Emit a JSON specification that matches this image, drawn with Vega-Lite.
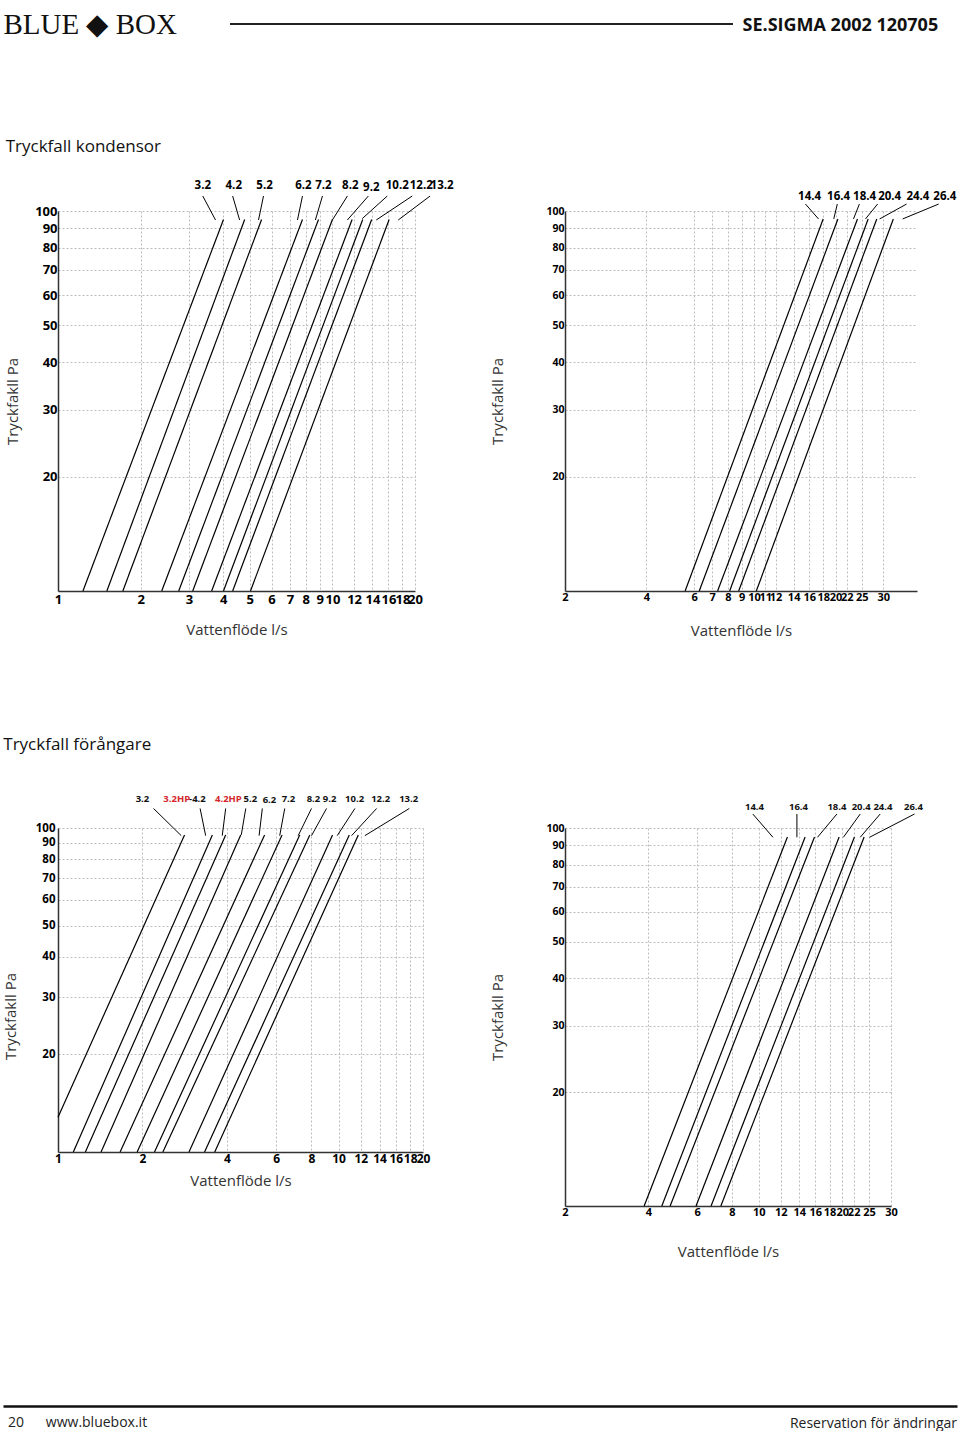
{
  "$schema": "https://vega.github.io/schema/vega-lite/v6.json",
  "background": "white",
  "padding": {"left": 3, "top": 10, "right": 0, "bottom": 0},
  "columns": 1,
  "align": "none",
  "spacing": 98,
  "config": {
    "view": {"stroke": null},
    "font": "Open Sans",
    "axis": {
      "ticks": false,
      "labelColor": "black",
      "labelFont": "Open Sans",
      "labelFontWeight": "bold",
      "labelOverlap": false,
      "labelFlush": false,
      "labelBound": false,
      "gridColor": "#bdbdbd",
      "gridDash": [2, 2],
      "gridWidth": 1,
      "domainColor": "#333333",
      "domainWidth": 1.5,
      "titleFont": "Open Sans",
      "titleFontWeight": "normal",
      "titleColor": "#333333",
      "titleFontSize": 15
    }
  },
  "datasets": {
    "k1_lines": [
      {"model": "3.2", "q": 1.233, "p": 10}, {"model": "3.2", "q": 4.01, "p": 95},
      {"model": "4.2", "q": 1.507, "p": 10}, {"model": "4.2", "q": 4.79, "p": 95},
      {"model": "5.2", "q": 1.723, "p": 10}, {"model": "5.2", "q": 5.52, "p": 95},
      {"model": "6.2", "q": 2.388, "p": 10}, {"model": "6.2", "q": 7.78, "p": 95},
      {"model": "7.2", "q": 2.754, "p": 10}, {"model": "7.2", "q": 8.9, "p": 95},
      {"model": "8.2", "q": 3.097, "p": 10}, {"model": "8.2", "q": 10.0, "p": 95},
      {"model": "9.2", "q": 3.63, "p": 10}, {"model": "9.2", "q": 11.8, "p": 95},
      {"model": "10.2", "q": 4.01, "p": 10}, {"model": "10.2", "q": 12.9, "p": 95},
      {"model": "12.2", "q": 4.33, "p": 10}, {"model": "12.2", "q": 13.9, "p": 95},
      {"model": "13.2", "q": 5.03, "p": 10}, {"model": "13.2", "q": 16.1, "p": 95}
    ],
    "k1_leaders": [
      {"model": "3.2", "q": 3.37, "p": 109.5, "q2": 3.75, "p2": 94.7},
      {"model": "4.2", "q": 4.33, "p": 109.5, "q2": 4.59, "p2": 94.7},
      {"model": "5.2", "q": 5.61, "p": 109.5, "q2": 5.38, "p2": 94.7},
      {"model": "6.2", "q": 7.78, "p": 109.5, "q2": 7.46, "p2": 94.7},
      {"model": "7.2", "q": 9.2, "p": 109.5, "q2": 8.67, "p2": 94.7},
      {"model": "8.2", "q": 11.34, "p": 109.5, "q2": 10.0, "p2": 94.7},
      {"model": "9.2", "q": 13.52, "p": 109.5, "q2": 11.34, "p2": 94.7},
      {"model": "10.2", "q": 15.85, "p": 109.5, "q2": 12.85, "p2": 95.5},
      {"model": "12.2", "q": 19.54, "p": 109.5, "q2": 14.45, "p2": 94.7},
      {"model": "13.2", "q": 22.7, "p": 109.5, "q2": 17.38, "p2": 94.7}
    ],
    "k1_labels": [
      {"label": "3.2", "q": 3.37, "p": 116.4},
      {"label": "4.2", "q": 4.37, "p": 116.4},
      {"label": "5.2", "q": 5.66, "p": 116.4},
      {"label": "6.2", "q": 7.84, "p": 116.4},
      {"label": "7.2", "q": 9.27, "p": 116.4},
      {"label": "8.2", "q": 11.62, "p": 116.4},
      {"label": "9.2", "q": 13.86, "p": 115.2},
      {"label": "10.2", "q": 17.23, "p": 116.4},
      {"label": "12.2", "q": 21.08, "p": 116.4},
      {"label": "13.2", "q": 25.1, "p": 116.4}
    ],
    "k2_lines": [
      {"model": "14.4", "q": 5.56, "p": 10}, {"model": "14.4", "q": 18.0, "p": 95.3},
      {"model": "16.4", "q": 6.27, "p": 10}, {"model": "16.4", "q": 20.4, "p": 95.3},
      {"model": "18.4", "q": 7.33, "p": 10}, {"model": "18.4", "q": 24.1, "p": 95.3},
      {"model": "20.4", "q": 8.12, "p": 10}, {"model": "20.4", "q": 26.4, "p": 95.3},
      {"model": "24.4", "q": 8.77, "p": 10}, {"model": "24.4", "q": 28.4, "p": 95.3},
      {"model": "26.4", "q": 10.19, "p": 10}, {"model": "26.4", "q": 32.7, "p": 95.3}
    ],
    "k2_leaders": [
      {"model": "14.4", "q": 15.48, "p": 104.3, "q2": 17.3, "p2": 95.3},
      {"model": "16.4", "q": 20.3, "p": 104.3, "q2": 19.7, "p2": 95.3},
      {"model": "18.4", "q": 24.5, "p": 104.3, "q2": 23.3, "p2": 95.3},
      {"model": "20.4", "q": 28.6, "p": 104.3, "q2": 25.8, "p2": 95.3},
      {"model": "24.4", "q": 36.6, "p": 104.3, "q2": 29.1, "p2": 95.3},
      {"model": "26.4", "q": 48.1, "p": 104.3, "q2": 35.4, "p2": 95.3}
    ],
    "k2_labels": [
      {"label": "14.4", "q": 16.03, "p": 108.8},
      {"label": "16.4", "q": 20.52, "p": 108.8},
      {"label": "18.4", "q": 25.6, "p": 108.8},
      {"label": "20.4", "q": 31.7, "p": 108.8},
      {"label": "24.4", "q": 40.3, "p": 108.8},
      {"label": "26.4", "q": 50.7, "p": 108.8}
    ],
    "f1_lines": [
      {"model": "3.2", "q": 1.0, "p": 12.8}, {"model": "3.2", "q": 2.825, "p": 95.2},
      {"model": "3.2HP-4.2", "q": 1.134, "p": 10}, {"model": "3.2HP-4.2", "q": 3.55, "p": 95.2},
      {"model": "4.2HP", "q": 1.252, "p": 10}, {"model": "4.2HP", "q": 3.96, "p": 95.2},
      {"model": "5.2", "q": 1.424, "p": 10}, {"model": "5.2", "q": 4.48, "p": 95.2},
      {"model": "6.2", "q": 1.665, "p": 10}, {"model": "6.2", "q": 5.45, "p": 95.2},
      {"model": "7.2", "q": 1.915, "p": 10}, {"model": "7.2", "q": 6.29, "p": 95.2},
      {"model": "8.2", "q": 2.208, "p": 10}, {"model": "8.2", "q": 7.27, "p": 95.2},
      {"model": "9.2", "q": 2.365, "p": 10}, {"model": "9.2", "q": 7.9, "p": 95.2},
      {"model": "10.2", "q": 2.93, "p": 10}, {"model": "10.2", "q": 9.52, "p": 95.2},
      {"model": "12.2", "q": 3.33, "p": 10}, {"model": "12.2", "q": 10.92, "p": 95.2},
      {"model": "13.2", "q": 3.62, "p": 10}, {"model": "13.2", "q": 11.76, "p": 95.2}
    ],
    "f1_leaders": [
      {"model": "3.2", "q": 2.19, "p": 114.9, "q2": 2.75, "p2": 94.7},
      {"model": "3.2HP-4.2", "q": 3.21, "p": 114.9, "q2": 3.36, "p2": 94.7},
      {"model": "4.2HP", "q": 3.96, "p": 114.9, "q2": 3.85, "p2": 94.7},
      {"model": "5.2", "q": 4.67, "p": 114.9, "q2": 4.5, "p2": 95.2},
      {"model": "6.2", "q": 5.35, "p": 114.9, "q2": 5.21, "p2": 94.7},
      {"model": "7.2", "q": 6.43, "p": 114.9, "q2": 6.17, "p2": 94.7},
      {"model": "8.2", "q": 8.01, "p": 114.9, "q2": 7.18, "p2": 94.7},
      {"model": "9.2", "q": 9.06, "p": 114.9, "q2": 8.01, "p2": 94.7},
      {"model": "10.2", "q": 11.44, "p": 114.9, "q2": 9.89, "p2": 94.7},
      {"model": "12.2", "q": 13.67, "p": 114.9, "q2": 11.13, "p2": 94.7},
      {"model": "13.2", "q": 17.88, "p": 114.9, "q2": 12.41, "p2": 94.7}
    ],
    "f1_labels": [
      {"label": "3.2", "kind": "std", "q": 2.0, "p": 122.7},
      {"label": "3.2HP", "kind": "HP", "q": 2.65, "p": 122.7},
      {"label": "-4.2", "kind": "std", "q": 3.14, "p": 122.7},
      {"label": "4.2HP", "kind": "HP", "q": 4.05, "p": 122.7},
      {"label": "5.2", "kind": "std", "q": 4.85, "p": 122.7},
      {"label": "6.2", "kind": "std", "q": 5.67, "p": 121.8},
      {"label": "7.2", "kind": "std", "q": 6.63, "p": 122.7},
      {"label": "8.2", "kind": "std", "q": 8.14, "p": 122.7},
      {"label": "9.2", "kind": "std", "q": 9.29, "p": 122.7},
      {"label": "10.2", "kind": "std", "q": 11.41, "p": 122.7},
      {"label": "12.2", "kind": "std", "q": 14.13, "p": 122.7},
      {"label": "13.2", "kind": "std", "q": 17.78, "p": 122.7}
    ],
    "f2_lines": [
      {"model": "14.4", "q": 3.86, "p": 10}, {"model": "14.4", "q": 12.69, "p": 94.7},
      {"model": "16.4", "q": 4.47, "p": 10}, {"model": "16.4", "q": 14.7, "p": 94.7},
      {"model": "18.4", "q": 4.79, "p": 10}, {"model": "18.4", "q": 15.89, "p": 94.7},
      {"model": "20.4", "q": 5.94, "p": 10}, {"model": "20.4", "q": 19.5, "p": 94.7},
      {"model": "24.4", "q": 6.73, "p": 10}, {"model": "24.4", "q": 22.14, "p": 94.7},
      {"model": "26.4", "q": 7.3, "p": 10}, {"model": "26.4", "q": 24.0, "p": 94.7}
    ],
    "f2_leaders": [
      {"model": "14.4", "q": 9.52, "p": 108.9, "q2": 11.25, "p2": 94.5},
      {"model": "16.4", "q": 13.73, "p": 108.9, "q2": 13.73, "p2": 94.5},
      {"model": "18.4", "q": 19.14, "p": 108.9, "q2": 16.29, "p2": 94.5},
      {"model": "20.4", "q": 23.23, "p": 108.9, "q2": 20.2, "p2": 94.5},
      {"model": "24.4", "q": 27.42, "p": 108.9, "q2": 23.23, "p2": 94.5},
      {"model": "26.4", "q": 36.48, "p": 108.9, "q2": 25.1, "p2": 94.5}
    ],
    "f2_labels": [
      {"label": "14.4", "q": 9.65, "p": 113.7},
      {"label": "16.4", "q": 13.91, "p": 113.7},
      {"label": "18.4", "q": 19.14, "p": 113.7},
      {"label": "20.4", "q": 23.42, "p": 113.7},
      {"label": "24.4", "q": 28.05, "p": 113.7},
      {"label": "26.4", "q": 36.15, "p": 113.7}
    ]
  },
  "concat": [
    {
      "bounds": "flush",
      "spacing": 0,
      "hconcat": [
        {
          "width": 172,
          "height": 1,
          "data": {"values": []},
          "mark": {"type": "rule", "color": "#222222"},
          "encoding": {
            "y": {
              "datum": 0,
              "type": "quantitative",
              "scale": {"domain": [0, 1]},
              "axis": {
                "title": "BLUE ◆ BOX",
                "labels": false,
                "ticks": false,
                "domain": false,
                "grid": false,
                "titleAngle": 0,
                "titleAlign": "left",
                "titleBaseline": "middle",
                "titleX": -55,
                "titleY": 0,
                "titleFont": "Liberation Serif",
                "titleFontSize": 29,
                "titleFontWeight": "normal",
                "titleColor": "#111111"
              }
            }
          }
        },
        {
          "width": 503,
          "height": 1,
          "data": {"values": [{"item": "header rule"}]},
          "mark": {"type": "rule", "color": "#222222", "strokeWidth": 2},
          "encoding": {
            "y": {
              "datum": 1,
              "type": "quantitative",
              "scale": {"domain": [0, 1]},
              "axis": {
                "orient": "right",
                "title": "SE.SIGMA 2002 120705",
                "labels": false,
                "ticks": false,
                "domain": false,
                "grid": false,
                "titleAngle": 0,
                "titleAlign": "left",
                "titleBaseline": "middle",
                "titleX": 9,
                "titleY": 1,
                "titleFont": "Open Sans",
                "titleFontSize": 18,
                "titleFontWeight": "bold",
                "titleColor": "#111111"
              }
            }
          }
        }
      ]
    },
    {
      "title": {"text": "Tryckfall kondensor", "anchor": "start", "font": "Open Sans", "fontSize": 17, "fontWeight": "normal", "color": "#111111", "offset": 24},
      "bounds": "flush",
      "spacing": 150,
      "hconcat": [
        {
          "width": 357,
          "height": 380,
          "encoding": {
            "x": {
              "field": "q", "type": "quantitative",
              "scale": {"type": "log", "domain": [1, 20], "nice": false},
              "axis": {"values": [1, 2, 3, 4, 5, 6, 7, 8, 9, 10, 12, 14, 16, 18, 20], "format": "d", "labelFontSize": 13, "labelPadding": 2, "title": "Vattenflöde l/s", "titlePadding": 16, "grid": true}
            },
            "y": {
              "field": "p", "type": "quantitative",
              "scale": {"type": "log", "domain": [10, 100], "nice": false},
              "axis": {"values": [20, 30, 40, 50, 60, 70, 80, 90, 100], "format": "d", "labelFontSize": 13, "labelPadding": 1, "title": "Tryckfakll Pa", "titlePadding": 14, "grid": true}
            }
          },
          "layer": [
            {"data": {"name": "k1_lines"}, "mark": {"type": "line", "color": "black", "strokeWidth": 1.2}, "encoding": {"detail": {"field": "model"}}},
            {"data": {"name": "k1_leaders"}, "mark": {"type": "rule", "color": "black", "strokeWidth": 1}, "encoding": {"x2": {"field": "q2"}, "y2": {"field": "p2"}}},
            {"data": {"name": "k1_labels"}, "mark": {"type": "text", "font": "Open Sans", "fontWeight": "bold", "fontSize": 11.5, "color": "black"}, "encoding": {"text": {"field": "label"}}}
          ]
        },
        {
          "width": 352,
          "height": 380,
          "encoding": {
            "x": {
              "field": "q", "type": "quantitative",
              "scale": {"type": "log", "domain": [2, 40], "nice": false},
              "axis": {"values": [2, 4, 6, 7, 8, 9, 10, 11, 12, 14, 16, 18, 20, 22, 25, 30], "format": "d", "labelFontSize": 11, "labelPadding": 0, "title": "Vattenflöde l/s", "titlePadding": 21, "grid": true}
            },
            "y": {
              "field": "p", "type": "quantitative",
              "scale": {"type": "log", "domain": [10, 100], "nice": false},
              "axis": {"values": [20, 30, 40, 50, 60, 70, 80, 90, 100], "format": "d", "labelFontSize": 10.5, "labelPadding": 1, "title": "Tryckfakll Pa", "titlePadding": 40, "grid": true}
            }
          },
          "layer": [
            {"data": {"name": "k2_lines"}, "mark": {"type": "line", "color": "black", "strokeWidth": 1.2}, "encoding": {"detail": {"field": "model"}}},
            {"data": {"name": "k2_leaders"}, "mark": {"type": "rule", "color": "black", "strokeWidth": 1}, "encoding": {"x2": {"field": "q2"}, "y2": {"field": "p2"}}},
            {"data": {"name": "k2_labels"}, "mark": {"type": "text", "font": "Open Sans", "fontWeight": "bold", "fontSize": 11.5, "color": "black"}, "encoding": {"text": {"field": "label"}}}
          ]
        }
      ]
    },
    {
      "title": {"text": "Tryckfall förångare", "anchor": "start", "font": "Open Sans", "fontSize": 17, "fontWeight": "normal", "color": "#111111", "offset": 40},
      "bounds": "flush",
      "spacing": 142,
      "hconcat": [
        {
          "width": 365,
          "height": 324,
          "encoding": {
            "x": {
              "field": "q", "type": "quantitative",
              "scale": {"type": "log", "domain": [1, 20], "nice": false},
              "axis": {"values": [1, 2, 4, 6, 8, 10, 12, 14, 16, 18, 20], "format": "d", "labelFontSize": 12, "labelPadding": 1, "title": "Vattenflöde l/s", "titlePadding": 9, "grid": true}
            },
            "y": {
              "field": "p", "type": "quantitative",
              "scale": {"type": "log", "domain": [10, 100], "nice": false},
              "axis": {"values": [20, 30, 40, 50, 60, 70, 80, 90, 100], "format": "d", "labelFontSize": 11.5, "labelPadding": 3, "title": "Tryckfakll Pa", "titlePadding": 17, "titleY": 188, "grid": true}
            }
          },
          "layer": [
            {"data": {"name": "f1_lines"}, "mark": {"type": "line", "color": "black", "strokeWidth": 1.2}, "encoding": {"detail": {"field": "model"}}},
            {"data": {"name": "f1_leaders"}, "mark": {"type": "rule", "color": "black", "strokeWidth": 1}, "encoding": {"x2": {"field": "q2"}, "y2": {"field": "p2"}}},
            {
              "data": {"name": "f1_labels"},
              "mark": {"type": "text", "font": "Open Sans", "fontWeight": "bold", "fontSize": 9.5},
              "encoding": {
                "text": {"field": "label"},
                "color": {"field": "kind", "type": "nominal", "scale": {"domain": ["std", "HP"], "range": ["#111111", "#d4262b"]}, "legend": null}
              }
            }
          ]
        },
        {
          "width": 326,
          "height": 378,
          "encoding": {
            "x": {
              "field": "q", "type": "quantitative",
              "scale": {"type": "log", "domain": [2, 30], "nice": false},
              "axis": {"values": [2, 4, 6, 8, 10, 12, 14, 16, 18, 20, 22, 25, 30], "format": "d", "labelFontSize": 11, "labelPadding": 0, "title": "Vattenflöde l/s", "titlePadding": 27, "grid": true}
            },
            "y": {
              "field": "p", "type": "quantitative",
              "scale": {"type": "log", "domain": [10, 100], "nice": false},
              "axis": {"values": [20, 30, 40, 50, 60, 70, 80, 90, 100], "format": "d", "labelFontSize": 10.5, "labelPadding": 1, "title": "Tryckfakll Pa", "titlePadding": 40, "grid": true}
            }
          },
          "layer": [
            {"data": {"name": "f2_lines"}, "mark": {"type": "line", "color": "black", "strokeWidth": 1.2}, "encoding": {"detail": {"field": "model"}}},
            {"data": {"name": "f2_leaders"}, "mark": {"type": "rule", "color": "black", "strokeWidth": 1}, "encoding": {"x2": {"field": "q2"}, "y2": {"field": "p2"}}},
            {"data": {"name": "f2_labels"}, "mark": {"type": "text", "font": "Open Sans", "fontWeight": "bold", "fontSize": 9.5, "color": "#111111"}, "encoding": {"text": {"field": "label"}}}
          ]
        }
      ]
    },
    {
      "width": 899,
      "height": 49,
      "data": {"values": [{"note": "20\u00a0\u00a0\u00a0\u00a0\u00a0\u00a0www.bluebox.it", "side": "left"}, {"note": "Reservation för ändringar", "side": "right"}]},
      "encoding": {
        "x": {"field": "side", "type": "nominal", "scale": {"type": "point", "padding": 0, "domain": ["left", "right"], "range": [-55, 899]}, "axis": {"labels": false, "ticks": false, "title": null, "grid": false, "domainColor": "#111111", "domainWidth": 2.5}},
        "y": {"datum": 0, "type": "quantitative", "scale": {"domain": [0, 1]}, "axis": null}
      },
      "layer": [
        {"transform": [{"filter": "datum.side == 'left'"}], "mark": {"type": "text", "align": "left", "baseline": "top", "dx": 5, "dy": 10, "font": "Open Sans", "fontSize": 14, "color": "#222222"}, "encoding": {"text": {"field": "note"}}},
        {"transform": [{"filter": "datum.side == 'right'"}], "mark": {"type": "text", "align": "right", "baseline": "top", "dy": 11, "font": "Open Sans", "fontSize": 14, "color": "#222222"}, "encoding": {"text": {"field": "note"}}}
      ]
    }
  ]
}
